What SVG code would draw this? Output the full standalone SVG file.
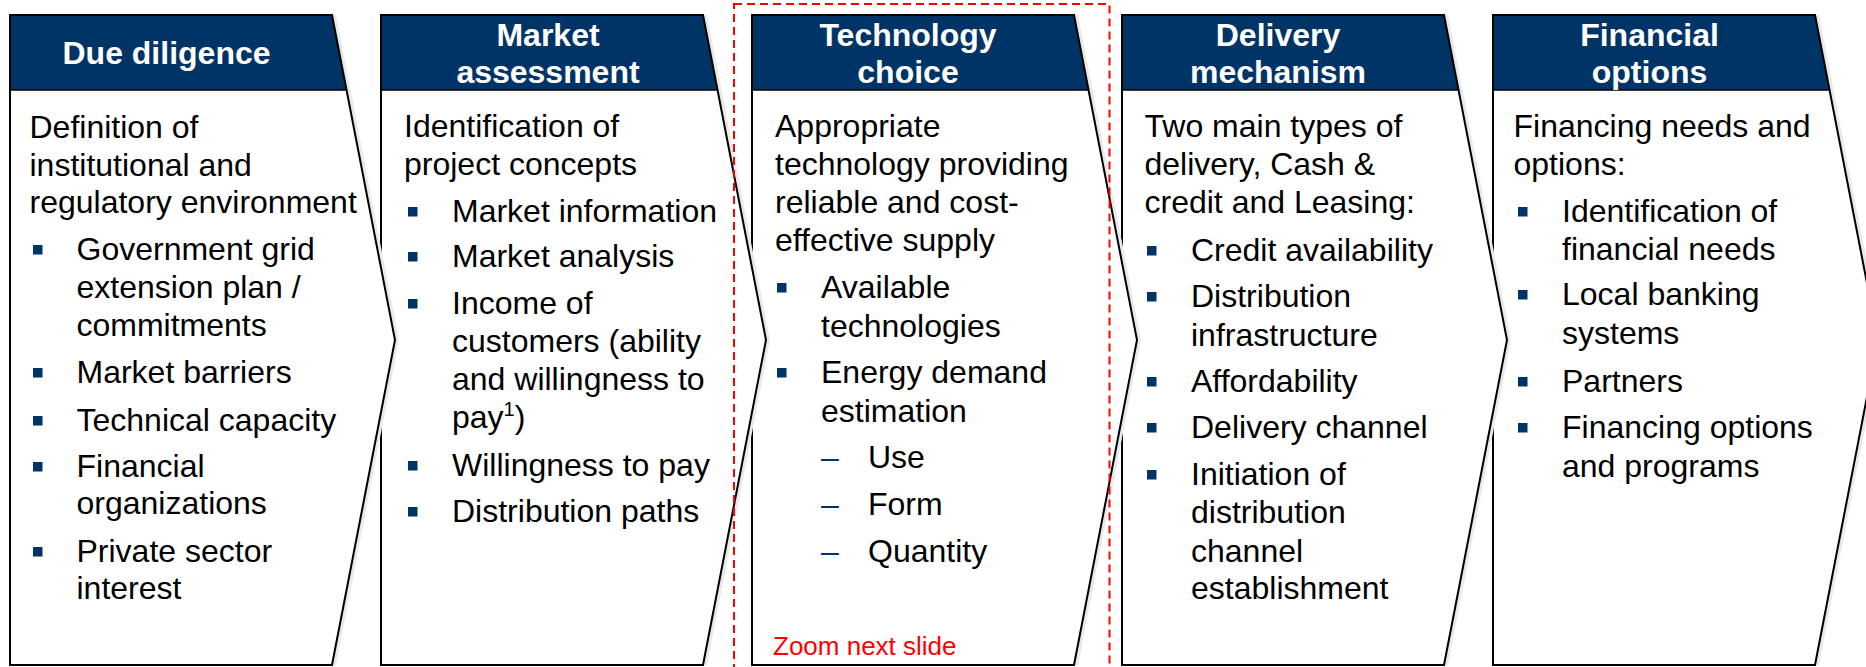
<svg xmlns="http://www.w3.org/2000/svg" width="1866" height="667" viewBox="0 0 1866 667">
<style>
.shadow{fill:#e9e9e9}
.body{fill:#ffffff}
.hdr{fill:#003366}
.hline{stroke:#000;stroke-width:1.5}
.outline{fill:none;stroke:#000;stroke-width:2;stroke-linejoin:miter}
.ht{font-family:"Liberation Sans",Arial,sans-serif;font-size:32px;font-weight:bold;fill:#fff;text-anchor:middle}
.t{font-family:"Liberation Sans",Arial,sans-serif;font-size:32px;fill:#000}
.dash{font-family:"Liberation Sans",Arial,sans-serif;font-size:32px;fill:#003366}
.sq{fill:#003366}
.red{font-family:"Liberation Sans",Arial,sans-serif;font-size:26px;fill:#ff0000}
</style>
<defs>
<polygon id="chev" points="0,15 322,15 385,340 322,665 0,665"/>
<polygon id="head" points="0,15 322,15 336.5,90 0,90"/>
</defs>
<rect width="1866" height="667" fill="#fff"/>

<g id="connectors"/>

<g id="node5">
<use href="#chev" x="1497" y="0" class="shadow"/>
<use href="#chev" x="1493" y="0" class="body"/>
<use href="#head" x="1493" y="0" class="hdr"/>
<line x1="1493" y1="90" x2="1829.5" y2="90" class="hline"/>
<use href="#chev" x="1493" y="0" class="outline"/>
<text class="ht" x="1649.5" y="45.5">Financial</text>
<text class="ht" x="1649.5" y="82.5">options</text>
<text class="t" x="1513.5" y="137">Financing needs and</text>
<text class="t" x="1513.5" y="175">options:</text>
<rect class="sq" x="1518" y="207" width="9.5" height="9.5"/>
<text class="t" x="1562" y="222">Identification of</text>
<text class="t" x="1562" y="260">financial needs</text>
<rect class="sq" x="1518" y="290" width="9.5" height="9.5"/>
<text class="t" x="1562" y="305">Local banking</text>
<text class="t" x="1562" y="344">systems</text>
<rect class="sq" x="1518" y="377" width="9.5" height="9.5"/>
<text class="t" x="1562" y="392">Partners</text>
<rect class="sq" x="1518" y="423" width="9.5" height="9.5"/>
<text class="t" x="1562" y="438">Financing options</text>
<text class="t" x="1562" y="477">and programs</text>
</g>

<g id="node4">
<use href="#chev" x="1126" y="0" class="shadow"/>
<use href="#chev" x="1122" y="0" class="body"/>
<use href="#head" x="1122" y="0" class="hdr"/>
<line x1="1122" y1="90" x2="1458.5" y2="90" class="hline"/>
<use href="#chev" x="1122" y="0" class="outline"/>
<text class="ht" x="1278" y="45.5">Delivery</text>
<text class="ht" x="1278" y="82.5">mechanism</text>
<text class="t" x="1144.5" y="137">Two main types of</text>
<text class="t" x="1144.5" y="175">delivery, Cash &amp;</text>
<text class="t" x="1144.5" y="213">credit and Leasing:</text>
<rect class="sq" x="1147" y="246" width="9.5" height="9.5"/>
<text class="t" x="1191" y="261">Credit availability</text>
<rect class="sq" x="1147" y="292" width="9.5" height="9.5"/>
<text class="t" x="1191" y="307">Distribution</text>
<text class="t" x="1191" y="346">infrastructure</text>
<rect class="sq" x="1147" y="377" width="9.5" height="9.5"/>
<text class="t" x="1191" y="392">Affordability</text>
<rect class="sq" x="1147" y="423" width="9.5" height="9.5"/>
<text class="t" x="1191" y="438">Delivery channel</text>
<rect class="sq" x="1147" y="470" width="9.5" height="9.5"/>
<text class="t" x="1191" y="485">Initiation of</text>
<text class="t" x="1191" y="523">distribution</text>
<text class="t" x="1191" y="562">channel</text>
<text class="t" x="1191" y="599">establishment</text>
</g>

<g id="node3">
<use href="#chev" x="756" y="0" class="shadow"/>
<use href="#chev" x="752" y="0" class="body"/>
<use href="#head" x="752" y="0" class="hdr"/>
<line x1="752" y1="90" x2="1088.5" y2="90" class="hline"/>
<use href="#chev" x="752" y="0" class="outline"/>
<text class="ht" x="908" y="45.5">Technology</text>
<text class="ht" x="908" y="82.5">choice</text>
<text class="t" x="775" y="137">Appropriate</text>
<text class="t" x="775" y="175">technology providing</text>
<text class="t" x="775" y="213">reliable and cost-</text>
<text class="t" x="775" y="251">effective supply</text>
<rect class="sq" x="777" y="283" width="9.5" height="9.5"/>
<text class="t" x="821" y="298">Available</text>
<text class="t" x="821" y="337">technologies</text>
<rect class="sq" x="777" y="368" width="9.5" height="9.5"/>
<text class="t" x="821" y="383">Energy demand</text>
<text class="t" x="821" y="422">estimation</text>
<text class="dash" x="821" y="468">–</text>
<text class="t" x="868" y="468">Use</text>
<text class="dash" x="821" y="515">–</text>
<text class="t" x="868" y="515">Form</text>
<text class="dash" x="821" y="562">–</text>
<text class="t" x="868" y="562">Quantity</text>
</g>

<g id="node2">
<use href="#chev" x="385" y="0" class="shadow"/>
<use href="#chev" x="381" y="0" class="body"/>
<use href="#head" x="381" y="0" class="hdr"/>
<line x1="381" y1="90" x2="717.5" y2="90" class="hline"/>
<use href="#chev" x="381" y="0" class="outline"/>
<text class="ht" x="548" y="45.5">Market</text>
<text class="ht" x="548" y="82.5">assessment</text>
<text class="t" x="404" y="137">Identification of</text>
<text class="t" x="404" y="175">project concepts</text>
<rect class="sq" x="408" y="207" width="9.5" height="9.5"/>
<text class="t" x="452" y="222">Market information</text>
<rect class="sq" x="408" y="252" width="9.5" height="9.5"/>
<text class="t" x="452" y="267">Market analysis</text>
<rect class="sq" x="408" y="299" width="9.5" height="9.5"/>
<text class="t" x="452" y="314">Income of</text>
<text class="t" x="452" y="352">customers (ability</text>
<text class="t" x="452" y="390">and willingness to</text>
<text class="t" x="452" y="428">pay<tspan font-size="20" dy="-12">1</tspan><tspan dy="12">)</tspan></text>
<rect class="sq" x="408" y="461" width="9.5" height="9.5"/>
<text class="t" x="452" y="476">Willingness to pay</text>
<rect class="sq" x="408" y="507" width="9.5" height="9.5"/>
<text class="t" x="452" y="522">Distribution paths</text>
</g>

<g id="node1">
<use href="#chev" x="14" y="0" class="shadow"/>
<use href="#chev" x="10" y="0" class="body"/>
<use href="#head" x="10" y="0" class="hdr"/>
<line x1="10" y1="90" x2="346.5" y2="90" class="hline"/>
<use href="#chev" x="10" y="0" class="outline"/>
<text class="ht" x="166.5" y="64">Due diligence</text>
<text class="t" x="29.5" y="138">Definition of</text>
<text class="t" x="29.5" y="176">institutional and</text>
<text class="t" x="29.5" y="213">regulatory environment</text>
<rect class="sq" x="33" y="245" width="9.5" height="9.5"/>
<text class="t" x="76.5" y="260">Government grid</text>
<text class="t" x="76.5" y="298">extension plan /</text>
<text class="t" x="76.5" y="336">commitments</text>
<rect class="sq" x="33" y="368" width="9.5" height="9.5"/>
<text class="t" x="76.5" y="383">Market barriers</text>
<rect class="sq" x="33" y="416" width="9.5" height="9.5"/>
<text class="t" x="76.5" y="431">Technical capacity</text>
<rect class="sq" x="33" y="462" width="9.5" height="9.5"/>
<text class="t" x="76.5" y="477">Financial</text>
<text class="t" x="76.5" y="514">organizations</text>
<rect class="sq" x="33" y="547" width="9.5" height="9.5"/>
<text class="t" x="76.5" y="562">Private sector</text>
<text class="t" x="76.5" y="599">interest</text>
</g>

<g id="highlight">
<rect x="734" y="4" width="375.5" height="680" fill="none" stroke="#ff0000" stroke-width="2" stroke-dasharray="8,5"/>
<text class="red" x="773" y="655">Zoom next slide</text>
</g>
</svg>
